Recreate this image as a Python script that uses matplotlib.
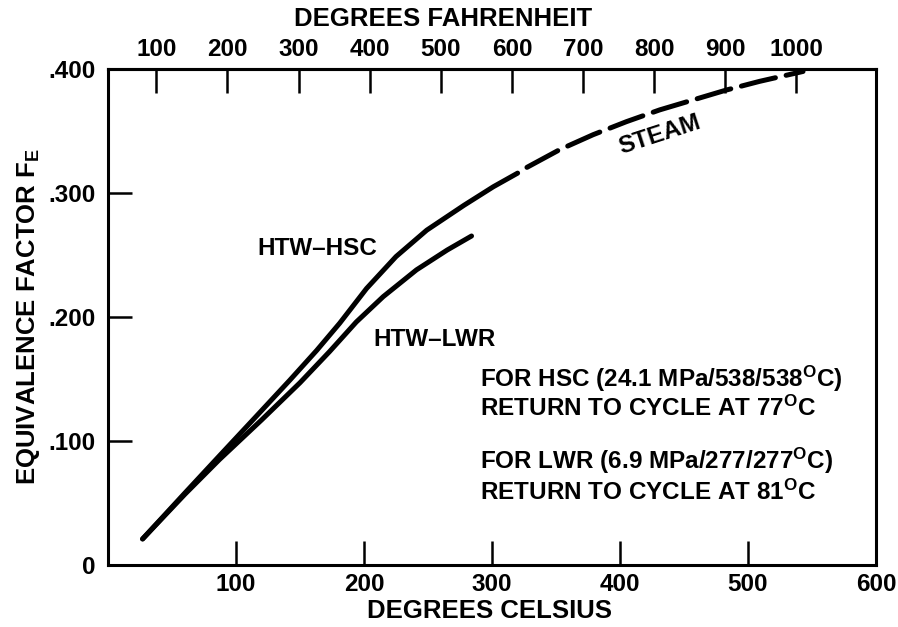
import numpy as np
import matplotlib
matplotlib.use('Agg')
from matplotlib import pyplot as plt

plt.rcParams['font.family'] = ['Liberation Sans', 'DejaVu Sans']
plt.rcParams['font.weight'] = 'bold'
plt.rcParams['mathtext.fontset'] = 'custom'
plt.rcParams['mathtext.rm'] = 'Liberation Sans:bold'
plt.rcParams['mathtext.bf'] = 'Liberation Sans:bold'
plt.rcParams['mathtext.it'] = 'Liberation Sans:bold'
plt.rcParams['mathtext.default'] = 'bf'

# HTW-HSC curve (solid part), degrees C vs equivalence factor
hsc_c = [27, 60, 87, 115, 142, 163, 181, 202, 225, 249, 278, 301, 320]
hsc_fe = [0.021, 0.058, 0.088, 0.119, 0.149, 0.173, 0.195, 0.223, 0.2487, 0.270, 0.290, 0.305, 0.316]

# steam continuation (dashed)
steam_c = [320, 327, 353, 379, 405, 431, 457, 483, 509, 543]
steam_fe = [0.316, 0.3205, 0.335, 0.347, 0.3575, 0.367, 0.375, 0.383, 0.390, 0.398]

# HTW-LWR curve
lwr_c = [27, 60, 87, 120, 150, 173, 194, 215, 241, 265, 284]
lwr_fe = [0.021, 0.057, 0.085, 0.117, 0.147, 0.172, 0.196, 0.2164, 0.238, 0.254, 0.2653]

c_ticks = [100, 200, 300, 400, 500, 600]
f_ticks = [100, 200, 300, 400, 500, 600, 700, 800, 900, 1000]
fe_ticks = [0, 0.1, 0.2, 0.3, 0.4]
fe_labels = ['0', '.100', '.200', '.300', '.400']

fs = 17.5

fig = plt.figure(figsize=(8.98, 6.27), dpi=100)
ax = fig.add_axes([0.1203, 0.0989, 0.8552, 0.7911])

ax.plot(hsc_c, hsc_fe, color='black', lw=3.6, solid_capstyle='round')
ax.plot(steam_c, steam_fe, color='black', lw=3.6, linestyle=(7, (7, 2.2)), dash_capstyle='round')
ax.plot(lwr_c, lwr_fe, color='black', lw=3.6, solid_capstyle='round')

ax.set_xlim(0, 600)
ax.set_ylim(0, 0.4)
ax.set_xticks(c_ticks)
ax.set_xticklabels([str(t) for t in c_ticks])
ax.set_yticks(fe_ticks)
ax.set_yticklabels(fe_labels)

for s in ax.spines.values():
    s.set_linewidth(2.2)
ax.tick_params(axis='both', direction='in', length=17, width=1.8, labelsize=fs)
ax.tick_params(axis='x', pad=6)
ax.tick_params(axis='y', pad=9)


def c2f(c):
    return np.asarray(c) * 9.0 / 5.0 + 32.0


def f2c(f):
    return (np.asarray(f) - 32.0) * 5.0 / 9.0


secax = ax.secondary_xaxis('top', functions=(c2f, f2c))
secax.set_xticks(f_ticks)
secax.set_xticklabels([str(t) for t in f_ticks])
secax.tick_params(direction='in', length=17, width=1.8, labelsize=fs, pad=6)
secax.spines['top'].set_linewidth(2.2)

fig.text(443 / 898, 1 - 19 / 627, 'DEGREES FAHRENHEIT', ha='center', va='center', fontsize=18.5, fontweight='bold')
fig.text(490 / 898, 1 - 611 / 627, 'DEGREES CELSIUS', ha='center', va='center', fontsize=18.5, fontweight='bold')
fig.text(29 / 898, 1 - 317 / 627, 'EQUIVALENCE FACTOR F$_{E}$', ha='center', va='center',
         rotation=90, fontsize=18.5, fontweight='bold')

ax.text(116.5, 0.2556, 'HTW\u2013HSC', ha='left', va='center', fontsize=fs)
ax.text(207, 0.1815, 'HTW\u2013LWR', ha='left', va='center', fontsize=fs)
ax.text(431, 0.3468, 'STEAM', ha='center', va='center', rotation=18, fontsize=fs)

ax.text(290.5, 0.150, 'FOR HSC (24.1 MPa/538/538$^{O}$C)', ha='left', va='center', fontsize=fs)
ax.text(290.5, 0.1266, 'RETURN TO CYCLE AT 77$^{O}$C', ha='left', va='center', fontsize=fs)
ax.text(290.5, 0.0839, 'FOR LWR (6.9 MPa/277/277$^{O}$C)', ha='left', va='center', fontsize=fs)
ax.text(290.5, 0.0589, 'RETURN TO CYCLE AT 81$^{O}$C', ha='left', va='center', fontsize=fs)

plt.savefig('out.png', dpi=100)
